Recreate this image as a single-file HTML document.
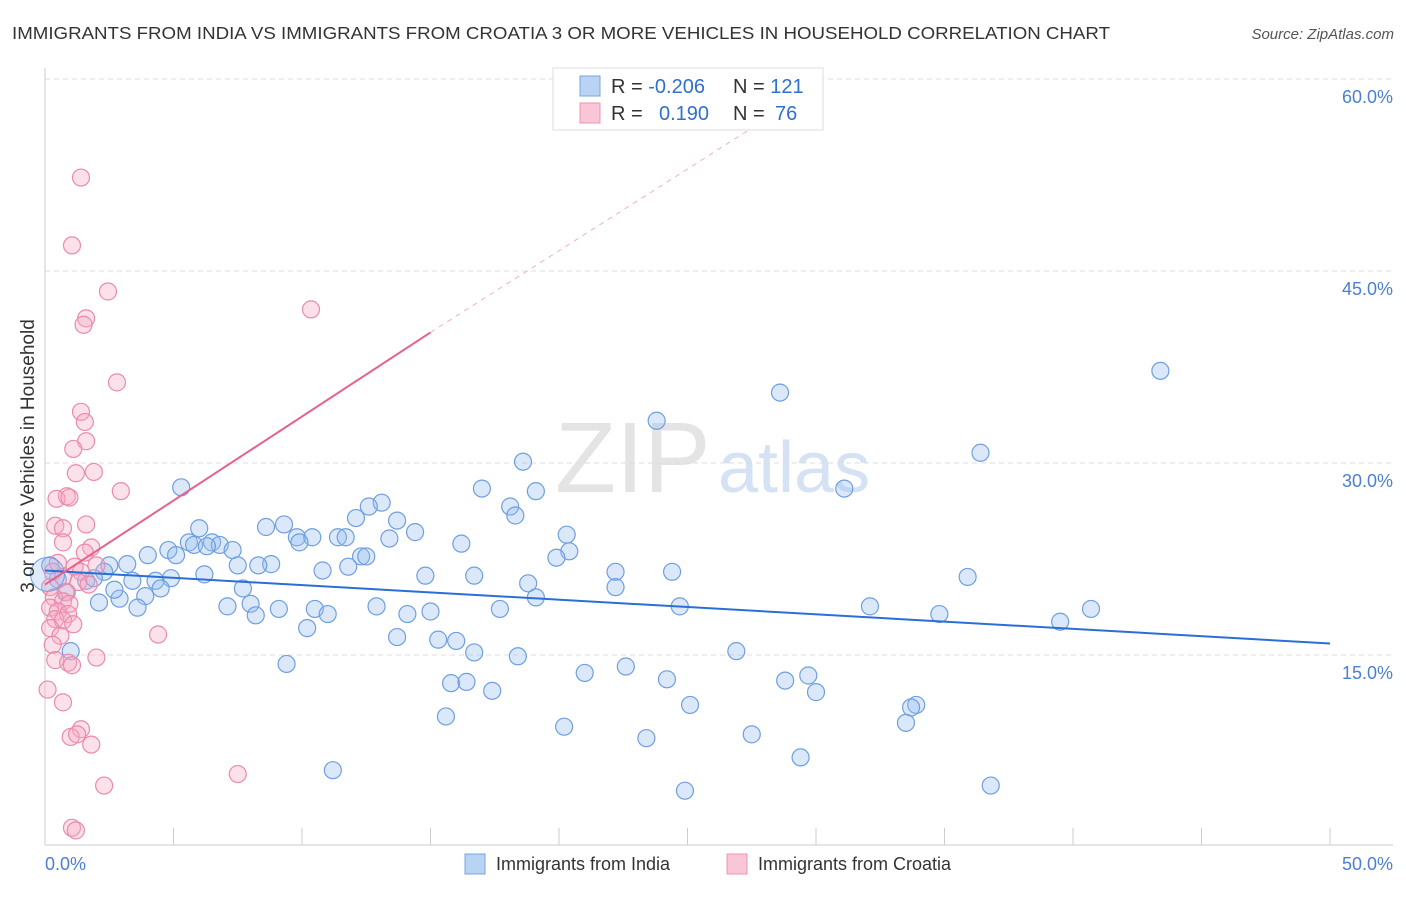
<!DOCTYPE html>
<html><head><meta charset="utf-8">
<style>
body{margin:0;background:#fff;font-family:"Liberation Sans",sans-serif;}
svg text{font-family:"Liberation Sans",sans-serif;}
</style></head>
<body>
<svg id="chart" width="1406" height="892" viewBox="0 0 1406 892" xmlns="http://www.w3.org/2000/svg">
<text x="12" y="39" font-size="17.5" fill="#333" textLength="1098" lengthAdjust="spacingAndGlyphs">IMMIGRANTS FROM INDIA VS IMMIGRANTS FROM CROATIA 3 OR MORE VEHICLES IN HOUSEHOLD CORRELATION CHART</text>
<text x="1394" y="39" font-size="15" fill="#555" text-anchor="end" font-style="italic">Source: ZipAtlas.com</text>
<text x="555" y="492" font-size="100" fill="#e4e4e4" font-family="Liberation Serif, serif">ZIP</text>
<text x="718" y="492" font-size="72" fill="#d4e2f4">atlas</text>
<g id="grid"></g>
<g id="axes"></g>
<g id="pts"></g>
<g id="lines"></g>
<text transform="translate(34,456) rotate(-90)" font-size="19" fill="#333" text-anchor="middle">3 or more Vehicles in Household</text>
<g>
<rect x="553" y="68" width="270" height="62" fill="#fff" stroke="#ddd"/>
<rect x="580" y="76" width="20" height="20" fill="#b9d3f4" stroke="#7aa6e0"/>
<rect x="580" y="103" width="20" height="20" fill="#f9c6d6" stroke="#ec94b3"/>
<text x="611" y="93" font-size="20" fill="#333">R = <tspan fill="#2f6fcf">-0.206</tspan>  <tspan x="733">N = </tspan><tspan fill="#2f6fcf">121</tspan></text>
<text x="611" y="120" font-size="20" fill="#333">R = <tspan x="659" fill="#2f6fcf">0.190</tspan><tspan x="733">N = </tspan><tspan x="775" fill="#2f6fcf">76</tspan></text>
</g>
<g>
<rect x="465" y="854" width="20" height="20" fill="#b9d3f4" stroke="#7aa6e0"/>
<text x="496" y="870" font-size="18" fill="#333">Immigrants from India</text>
<rect x="727" y="854" width="20" height="20" fill="#f9c6d6" stroke="#ec94b3"/>
<text x="758" y="870" font-size="18" fill="#333">Immigrants from Croatia</text>
</g>
</svg>
<script>
const yTicks=[15,30,45,60];
const yTickLabels=["15.0%","30.0%","45.0%","60.0%"];
const xTickVals=[0,5,10,15,20,25,30,35,40,45,50];
const indiaX=[43.4,28.6,23.8,36.4,18.6,5.3,17.0,19.1,31.1,13.1,12.6,18.1,18.3,12.1,13.7,9.3,8.6,6.0,14.4,20.3,9.8,10.4,11.4,11.7,13.4,16.2,9.9,6.5,5.6,5.8,6.8,7.3,4.8,6.3,20.4,4.0,5.1,12.3,12.5,19.9,3.2,8.8,7.5,8.3,11.8,10.8,2.5,2.3,22.2,24.4,16.7,14.8,6.2,4.9,35.9,3.4,4.3,18.8,1.6,1.9,22.2,7.7,4.5,3.9,2.9,19.1,2.1,8.0,3.6,7.1,12.9,17.7,24.7,32.1,40.7,9.1,10.5,15.0,14.1,11.0,8.2,34.8,39.5,10.2,13.7,15.3,16.0,16.7,18.4,26.9,9.4,22.6,21.0,29.7,24.2,28.8,15.8,16.4,30.0,17.4,25.1,33.9,33.7,15.6,33.5,20.2,27.5,23.4,29.4,11.2,36.8,24.9,1.0,0.2,0.5,0.8,2.7];
const indiaY=[37.2,35.5,33.3,30.8,30.1,28.1,28.0,27.8,28.0,26.9,26.6,26.6,25.9,25.7,25.5,25.2,25.0,24.9,24.6,24.4,24.2,24.2,24.2,24.2,24.1,23.7,23.8,23.8,23.8,23.6,23.6,23.2,23.2,23.5,23.1,22.8,22.8,22.7,22.7,22.6,22.1,22.1,22.0,22.0,21.9,21.6,22.0,21.5,21.5,21.5,21.2,21.2,21.3,21.0,21.1,20.8,20.8,20.6,20.8,21.0,20.3,20.2,20.2,19.6,19.4,19.5,19.1,19.0,18.7,18.8,18.8,18.6,18.8,18.8,18.6,18.6,18.6,18.4,18.2,18.2,18.1,18.2,17.6,17.1,16.4,16.2,16.1,15.2,14.9,15.3,14.3,14.1,13.6,13.4,13.1,13.0,12.8,12.9,12.1,12.2,11.1,11.1,10.9,10.2,9.7,9.4,8.8,8.5,7.0,6.0,4.8,4.4,15.3,22.0,20.9,19.9,20.1];
const croatiaX=[1.4,1.05,2.45,10.35,1.6,1.5,2.8,1.4,1.55,1.6,1.1,1.9,1.2,2.95,0.85,0.45,0.95,0.4,1.6,0.7,0.7,1.8,1.55,0.5,2.0,1.15,0.3,1.4,0.7,1.3,1.7,0.2,0.85,0.35,0.7,0.95,0.2,0.5,0.9,0.4,0.7,1.1,0.2,0.6,4.4,0.3,0.4,2.0,0.9,1.05,0.1,0.7,1.4,1.0,1.25,1.8,7.5,2.3,1.05,1.2];
const croatiaY=[52.3,47.0,43.4,42.0,41.3,40.8,36.3,34.0,33.2,31.7,31.1,29.3,29.2,27.8,27.4,27.2,27.3,25.1,25.2,24.9,23.8,23.4,23.0,22.2,22.0,21.9,21.5,21.5,21.1,20.7,20.5,20.3,19.9,19.5,19.2,19.0,18.7,18.4,18.2,17.8,17.7,17.4,17.1,16.5,16.6,15.8,14.6,14.8,14.4,14.2,12.3,11.3,9.2,8.6,8.8,8.0,5.7,4.8,1.5,1.3];
const indiaTrend=[[0,21.6],[50,15.9]];
const croatiaTrend=[[0,20.5],[15,40.2]];
const croatiaTrendExt=[[15,40.2],[28,56.8]];

const X0=45,X1=1330,Y0=847,YS=192/15;
const sx=v=>X0+(v/50)*(X1-X0);
const sy=v=>Y0-v*YS;
const NS="http://www.w3.org/2000/svg";
function mk(tag,attrs,parent){const e=document.createElementNS(NS,tag);for(const k in attrs)e.setAttribute(k,attrs[k]);parent.appendChild(e);return e;}
const grid=document.getElementById('grid'),axes=document.getElementById('axes'),pts=document.getElementById('pts'),lines=document.getElementById('lines');
yTicks.forEach((t,i)=>{
  const l=mk('line',{x1:X0,x2:1393,y1:sy(t),y2:sy(t),stroke:'#ddd','stroke-dasharray':'5,4'},grid);
  
  
  const tx=mk('text',{x:1393,y:sy(t)+24,'font-size':18,fill:'#4a7fd4','text-anchor':'end'},axes);
  tx.textContent=yTickLabels[i];
  
  
});
const ax=mk('line',{x1:X0,x2:1393,y1:845,y2:845,stroke:'#ccc'},axes);


const ay=mk('line',{x1:X0,x2:X0,y1:68,y2:845,stroke:'#ccc'},axes);


xTickVals.forEach(v=>{
  const t=mk('line',{x1:sx(v),x2:sx(v),y1:828,y2:845,stroke:'#ccc'},axes);
  
  
});
const xl=mk('text',{x:45,y:870,'font-size':18,fill:'#4a7fd4'},axes);xl.textContent='0.0%';


const xr=mk('text',{x:1393,y:870,'font-size':18,fill:'#4a7fd4','text-anchor':'end'},axes);xr.textContent='50.0%';


indiaX.forEach((v,i)=>{
  const c=mk('circle',{cx:sx(v),cy:sy(indiaY[i]),r:8.5,fill:'rgba(150,190,240,0.35)',stroke:'#6f9fe0','stroke-width':1.2},pts);
  
  
});
croatiaX.forEach((v,i)=>{
  const c=mk('circle',{cx:sx(v),cy:sy(croatiaY[i]),r:8.5,fill:'rgba(245,170,196,0.35)',stroke:'#ea8aad','stroke-width':1.2},pts);
  
  
});
const big=mk('circle',{cx:sx(0.1),cy:sy(21.3),r:17,fill:'rgba(150,190,240,0.3)',stroke:'#6f9fe0'},pts);


const bl=mk('line',{x1:sx(indiaTrend[0][0]),y1:sy(indiaTrend[0][1]),x2:sx(indiaTrend[1][0]),y2:sy(indiaTrend[1][1]),stroke:'#2b6fd6','stroke-width':2},lines);


const pl=mk('line',{x1:sx(croatiaTrend[0][0]),y1:sy(croatiaTrend[0][1]),x2:sx(croatiaTrend[1][0]),y2:sy(croatiaTrend[1][1]),stroke:'#e8608e','stroke-width':2},lines);


const pd=mk('line',{x1:sx(croatiaTrendExt[0][0]),y1:sy(croatiaTrendExt[0][1]),x2:sx(croatiaTrendExt[1][0]),y2:sy(croatiaTrendExt[1][1]),stroke:'#f0b0c6','stroke-width':1,'stroke-dasharray':'5,5'},lines);


</script>
</body></html>
